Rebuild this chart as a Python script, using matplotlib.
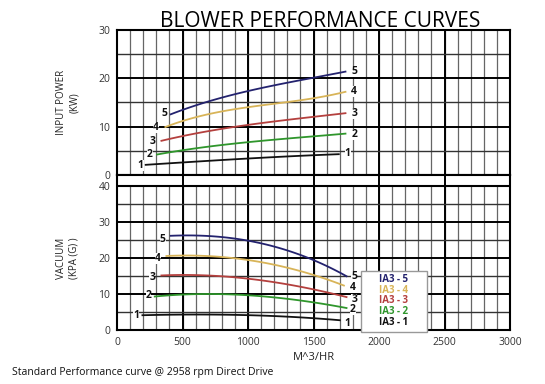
import numpy as np
import matplotlib
matplotlib.use("Agg")
import matplotlib.pyplot as plt

plt.rcParams['font.family'] = ['Open Sans', 'DejaVu Sans']

# airflow (m^3/hr) sample points
pw_x = {
    5: [410, 500, 1000, 1500, 1744],
    4: [369, 500, 1000, 1500, 1744],
    3: [339, 500, 1000, 1500, 1744],
    2: [306, 500, 1000, 1500, 1744],
    1: [219, 500, 1000, 1500, 1693],
}
# input power (kW)
pw_y = {
    5: [12.6, 13.4, 17.4, 20.1, 21.4],
    4: [9.9, 11.2, 14.0, 15.9, 17.2],
    3: [7.1, 8.0, 10.4, 12.0, 12.8],
    2: [4.3, 5.0, 6.9, 7.9, 8.6],
    1: [2.1, 2.6, 3.4, 4.1, 4.3],
}

vac_x = {
    5: [410, 580, 1000, 1500, 1752],
    4: [377, 600, 1000, 1500, 1732],
    3: [339, 600, 1000, 1500, 1752],
    2: [288, 800, 1000, 1500, 1752],
    1: [194, 500, 1000, 1500, 1701],
}
# vacuum (kPa)
vac_y = {
    5: [26.1, 26.4, 24.7, 19.5, 14.9],
    4: [20.5, 20.8, 19.3, 15.4, 12.3],
    3: [15.1, 15.4, 14.1, 11.4, 9.1],
    2: [9.3, 10.0, 9.6, 7.7, 6.1],
    1: [4.1, 4.3, 4.1, 3.3, 2.7],
}

colors = {5: '#23226e', 4: '#d8b458', 3: '#b4403e', 2: '#2f962c', 1: '#111111'}
legend_names = ['IA3 - 5', 'IA3 - 4', 'IA3 - 3', 'IA3 - 2', 'IA3 - 1']

# curve label positions: (x, y) left and right
pw_lab_l = {5: (360, 12.8), 4: (300, 9.9), 3: (270, 7.0), 2: (250, 4.3), 1: (180, 1.9)}
pw_lab_r = {5: (1810, 21.5), 4: (1810, 17.3), 3: (1810, 12.8), 2: (1810, 8.4), 1: (1760, 4.4)}
vac_lab_l = {5: (350, 25.2), 4: (310, 19.8), 3: (270, 14.6), 2: (240, 9.6), 1: (145, 4.0)}
vac_lab_r = {5: (1810, 15.0), 4: (1800, 11.8), 3: (1810, 8.6), 2: (1800, 5.8), 1: (1760, 1.9)}


def smooth(xs, ys):
    t = np.linspace(min(xs), max(xs), 60)
    c = np.polyfit(xs, ys, 3)
    return t, np.polyval(c, t)


fig = plt.figure(figsize=(5.45, 3.84), dpi=100)
ax1 = fig.add_axes([0.2147, 0.5443, 0.7211, 0.3776])
ax2 = fig.add_axes([0.2147, 0.1406, 0.7211, 0.4037])

tick_color = '#333333'
for ax in (ax1, ax2):
    ax.set_xlim(0, 3000)
    ax.tick_params(length=0, labelsize=7.5, colors=tick_color, pad=5)
    for s in ax.spines.values():
        s.set_linewidth(1.5)
        s.set_color('black')

# top panel grid
ax1.set_ylim(0, 30)
ax1.set_yticks([0, 10, 20, 30])
ax1.set_xticks([])
ax1.vlines(np.arange(100, 3000, 100), 0, 30, color='#666666', lw=0.9, zorder=1)
ax1.vlines(np.arange(500, 3000, 500), 0, 30, color='black', lw=1.4, zorder=1)
ax1.hlines([5, 15, 25], 0, 3000, color='#333333', lw=1.0, zorder=1)
ax1.hlines([10, 20], 0, 3000, color='black', lw=1.4, zorder=1)

# bottom panel grid (with a strip above 40 showing only major lines)
ax2.set_ylim(0, 43.06)
ax2.set_yticks([0, 10, 20, 30, 40])
ax2.set_xticks(np.arange(0, 3001, 500))
ax2.vlines(np.arange(100, 3000, 100), 0, 40, color='#666666', lw=0.9, zorder=1)
ax2.vlines(np.arange(500, 3000, 500), 0, 43.06, color='black', lw=1.4, zorder=1)
ax2.hlines([5, 15, 25, 35], 0, 3000, color='#333333', lw=1.0, zorder=1)
ax2.hlines([10, 20, 30], 0, 3000, color='black', lw=1.4, zorder=1)
ax2.hlines([40], 0, 3000, color='black', lw=1.5, zorder=1)

box = dict(facecolor='white', edgecolor='none', pad=0.0)
for k in [5, 4, 3, 2, 1]:
    t, v = smooth(pw_x[k], pw_y[k])
    ax1.plot(t, v, color=colors[k], lw=1.3, zorder=3)
    for (lx, ly) in (pw_lab_l[k], pw_lab_r[k]):
        ax1.text(lx, ly, str(k), fontsize=7.5, fontweight='bold', color='#111111',
                 ha='center', va='center', bbox=box, zorder=4)
    t, v = smooth(vac_x[k], vac_y[k])
    ax2.plot(t, v, color=colors[k], lw=1.3, zorder=3)
    for (lx, ly) in (vac_lab_l[k], vac_lab_r[k]):
        ax2.text(lx, ly, str(k), fontsize=7.5, fontweight='bold', color='#111111',
                 ha='center', va='center', bbox=box, zorder=4)

# legend box
ax2.add_patch(plt.Rectangle((1862, -0.5), 504, 16.9, facecolor='white',
                            edgecolor='#999999', lw=1.0, zorder=5, clip_on=False))
for i, (name, k) in enumerate(zip(legend_names, [5, 4, 3, 2, 1])):
    ax2.text(2114, 14.0 - i * 2.95, name, fontsize=7, fontweight='bold',
             color=colors[k], ha='center', va='center', zorder=6)

ax1.set_ylabel('INPUT POWER\n(KW)', fontsize=7, color='#222222')
ax2.set_ylabel('VACUUM\n(KPA (G) )', fontsize=7, color='#222222')
ax1.yaxis.set_label_coords(-0.095, 0.5)
ax2.yaxis.set_label_coords(-0.095, 40 / 43.06 / 2)
ax2.set_xlabel('M^3/HR', fontsize=8, color='#222222', labelpad=3)

fig.text(0.587, 0.945, 'BLOWER PERFORMANCE CURVES', fontsize=15, ha='center',
         va='center', color='black')
fig.text(0.022, 0.03, 'Standard Performance curve @ 2958 rpm Direct Drive',
         fontsize=7.5, color='#111111', ha='left', va='center')

fig.savefig('out.png', dpi=100)
